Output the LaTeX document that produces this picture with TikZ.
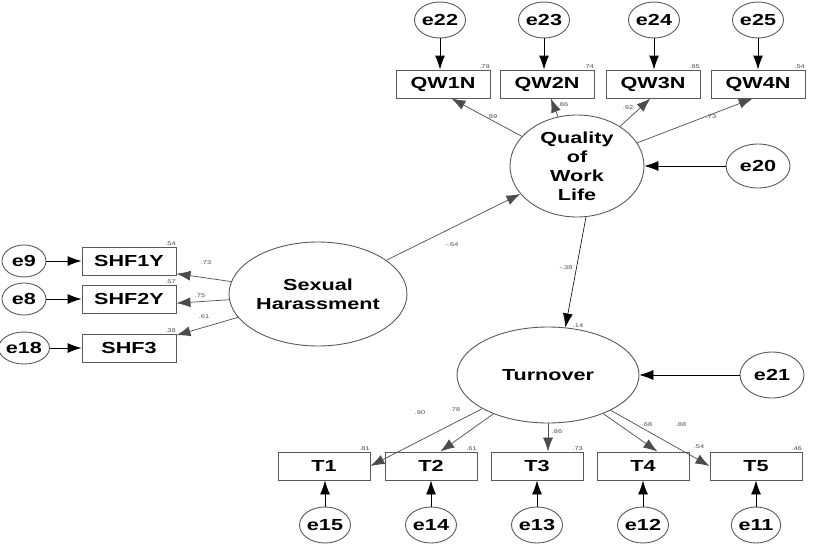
\documentclass[tikz,border=0pt]{standalone}
\usepackage{fontspec}
\setmainfont{Liberation Sans}[FakeStretch=1.35]
\usetikzlibrary{shapes.geometric,arrows.meta,calc}
\begin{document}
\begin{tikzpicture}[x=1pt,y=-1pt,
  obs/.style={draw=gray!70!black, line width=0.9pt, minimum width=94pt, minimum height=28pt, inner sep=0pt, font=\bfseries\fontsize{16}{16}\selectfont},
  tobs/.style={obs, minimum width=92pt},
  lat/.style={ellipse, draw=gray!70!black, line width=0.9pt, inner sep=0pt, font=\bfseries\fontsize{16}{19}\selectfont, align=center},
  err/.style={ellipse, draw=gray!70!black, line width=0.9pt, inner sep=0pt, minimum width=48pt, minimum height=36pt, font=\bfseries\fontsize{16}{16}\selectfont},
  arr/.style={-{Latex[length=14pt,width=10pt]}, line width=0.9pt, black},
  ld/.style={-{Latex[length=14pt,width=10pt]}, line width=0.7pt, gray!60!black},
  lab/.style={font=\fontsize{5.5}{5.5}\selectfont, text=gray!60!black, inner sep=0.5pt}
]
\useasboundingbox (0,0) rectangle (816,546);

% Quality of Work Life block
\node[err] (e22) at (440,20) {e22};
\node[err] (e23) at (544,20) {e23};
\node[err] (e24) at (654,20) {e24};
\node[err] (e25) at (758,20) {e25};
\node[obs] (QW1N) at (443,84) {QW1N};
\node[obs] (QW2N) at (547,84) {QW2N};
\node[obs] (QW3N) at (653,84) {QW3N};
\node[obs] (QW4N) at (758,84) {QW4N};
\node[lat, minimum width=134pt, minimum height=102pt] (QWL) at (577,166) {Quality\\of\\Work\\Life};
\node[err, minimum width=64pt, minimum height=44pt] (e20) at (758,166) {e20};

% Sexual Harassment block
\node[lat, minimum width=178pt, minimum height=104pt] (SH) at (318,294) {Sexual\\Harassment};
\node[obs] (SHF1Y) at (129,261) {SHF1Y};
\node[obs] (SHF2Y) at (129,299) {SHF2Y};
\node[obs] (SHF3) at (129,348) {SHF3};
\node[err, minimum width=44pt, minimum height=32pt] (e9) at (24,261) {e9};
\node[err, minimum width=44pt, minimum height=32pt] (e8) at (24,299) {e8};
\node[err, minimum width=46pt, minimum height=32pt] (e18) at (24,348) {e18};

% Turnover block
\node[lat, minimum width=182pt, minimum height=96pt] (Tu) at (548,375) {Turnover};
\node[err, minimum width=64pt, minimum height=46pt] (e21) at (772,375) {e21};
\node[tobs] (T1) at (324,466) {T1};
\node[tobs] (T2) at (431,466) {T2};
\node[tobs] (T3) at (537,466) {T3};
\node[tobs] (T4) at (643,466) {T4};
\node[tobs] (T5) at (756,466) {T5};
\node[err] (e15) at (325,525) {e15};
\node[err] (e14) at (431,525) {e14};
\node[err] (e13) at (537,525) {e13};
\node[err] (e12) at (643,525) {e12};
\node[err] (e11) at (756,525) {e11};

% error arrows
\foreach \e/\o in {e22/QW1N,e23/QW2N,e24/QW3N,e25/QW4N}
  \draw[arr] (\e) -- (\e |- \o.north);
\foreach \e/\o in {e15/T1,e14/T2,e13/T3,e12/T4,e11/T5}
  \draw[arr] (\e) -- (\e |- \o.south);
\foreach \e/\o in {e9/SHF1Y,e8/SHF2Y,e18/SHF3}
  \draw[arr] (\e) -- (\o.west);
\draw[arr, line width=0.6pt] (e20) -- (QWL);
\draw[arr, line width=0.6pt] (e21) -- (Tu);

% loadings
\draw[ld] (QWL) -- (QW1N.-60);
\draw[ld] (QWL) -- (QW2N.-75);
\draw[ld] (QWL) -- (QW3N.-100);
\draw[ld] (QWL) -- (QW4N.-110);
\draw[ld] (SH) -- (SHF1Y.-15);
\draw[ld] (SH) -- (SHF2Y.-5);
\draw[ld] (SH) -- (SHF3.15);
\draw[ld] (Tu) -- (T1.east);
\draw[ld] (Tu) -- (T2.57);
\draw[ld] (Tu.south) -- (Tu.south |- T3.north);
\draw[ld] (Tu) -- (T4.45);
\draw[ld] (Tu) -- (T5.west);

% structural paths
\draw[ld] (SH) -- (QWL);
\draw[arr, line width=0.6pt] (QWL.-80) -- (Tu.70);

% loading labels
\node[lab] (l1) at (492,117) {.89};
\node[lab] (l2) at (563,105) {.86};
\node[lab] (l3) at (628,108) {.92};
\node[lab] (l4) at (711,117) {.73};
\node[lab] (l5) at (206,263) {.73};
\node[lab] (l6) at (200,296) {.75};
\node[lab] (l7) at (204,317) {.61};
\node[lab] (l8) at (452,245) {-.64};
\node[lab] (l9) at (566,268) {-.38};
\node[lab] (l10) at (420,413) {.90};
\node[lab] (l11) at (455,410) {.78};
\node[lab] (l12) at (557,432) {.86};
\node[lab] (l13) at (647,425) {.68};
\node[lab] (l14) at (681,425) {.88};

% R-squared labels
\node[lab, anchor=south east] (r1) at (QW1N.north east) {.79};
\node[lab, anchor=south east] (r2) at (QW2N.north east) {.74};
\node[lab, anchor=south east] (r3) at (QW3N.north east) {.85};
\node[lab, anchor=south east] (r4) at (QW4N.north east) {.54};
\node[lab, anchor=south east] (r5) at (SHF1Y.north east) {.54};
\node[lab, anchor=south east] (r6) at (SHF2Y.north east) {.57};
\node[lab, anchor=south east] (r7) at (SHF3.north east) {.38};
\node[lab] (r8) at (578,326) {.14};
\node[lab, anchor=south east] (r9) at (T1.north east) {.81};
\node[lab, anchor=south east] (r10) at (T2.north east) {.61};
\node[lab, anchor=south east] (r11) at (T3.north east) {.73};
\node[lab] (r12) at (699,447) {.54};
\node[lab, anchor=south east] (r13) at (T5.north east) {.46};
\end{tikzpicture}
\end{document}
